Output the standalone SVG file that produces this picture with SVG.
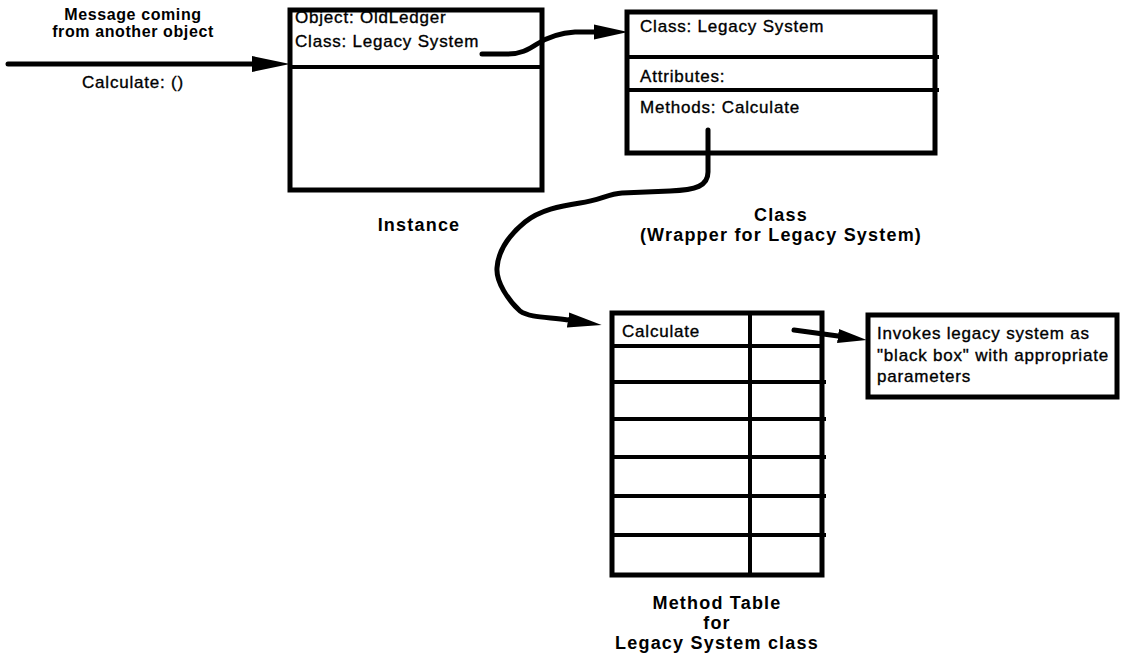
<svg xmlns="http://www.w3.org/2000/svg" width="1123" height="655" viewBox="0 0 1123 655">
  <style>
    .box { fill: #fff; stroke: #000; stroke-width: 5; }
    .div { stroke: #000; stroke-width: 4; fill: none; }
    .conn { stroke: #000; stroke-width: 5; fill: none; stroke-linecap: round; stroke-linejoin: round; }
    .t { font-family: "Liberation Sans", Arial, Helvetica, sans-serif; font-size: 17px; letter-spacing: 0.8px; fill: #000; stroke: #000; stroke-width: 0.35px; }
    .lbl { font-family: "Liberation Sans", Arial, Helvetica, sans-serif; font-size: 18px; font-weight: bold; letter-spacing: 1.2px; fill: #000; text-anchor: middle; }
    .msg { font-family: "Liberation Sans", Arial, Helvetica, sans-serif; font-size: 16px; font-weight: bold; letter-spacing: 0.6px; fill: #000; text-anchor: middle; }
  </style>
  <defs>
    <marker id="head" markerUnits="userSpaceOnUse" viewBox="0 -10 40 20" markerWidth="40" markerHeight="20" refX="0" refY="0" orient="auto">
      <path d="M0,-7.5 L34,0 L0,7.5 z" fill="#000"/>
    </marker>
    <marker id="headBig" markerUnits="userSpaceOnUse" viewBox="0 -10 44 20" markerWidth="44" markerHeight="20" refX="0" refY="0" orient="auto">
      <path d="M0,-8 L38,0 L0,8 z" fill="#000"/>
    </marker>
    <marker id="headSmall" markerUnits="userSpaceOnUse" viewBox="0 -10 34 20" markerWidth="34" markerHeight="20" refX="0" refY="0" orient="auto">
      <path d="M0,-7 L29,0 L0,7 z" fill="#000"/>
    </marker>
  </defs>
  <rect width="1123" height="655" fill="#fff"/>

  <!-- incoming message -->
  <g id="message">
    <text class="msg" x="133" y="20">Message coming</text>
    <text class="msg" x="133" y="37">from another object</text>
    <text class="t" x="133" y="88" text-anchor="middle">Calculate: ()</text>
  </g>

  <!-- instance object -->
  <g id="instance">
    <rect class="box" x="290" y="10" width="252" height="180"/>
    <line class="div" x1="290" y1="67" x2="542" y2="67"/>
    <text class="t" x="295" y="23">Object: OldLedger</text>
    <text class="t" x="295" y="47">Class: Legacy System</text>
    <text class="lbl" x="419" y="231">Instance</text>
  </g>

  <!-- wrapper class -->
  <g id="class">
    <rect class="box" x="627" y="12" width="308" height="141"/>
    <line class="div" x1="627" y1="57" x2="939" y2="57"/>
    <line class="div" x1="627" y1="90" x2="939" y2="90"/>
    <text class="t" x="640" y="32">Class: Legacy System</text>
    <text class="t" x="640" y="82">Attributes:</text>
    <text class="t" x="640" y="113">Methods: Calculate</text>
    <text class="lbl" x="781" y="221">Class</text>
    <text class="lbl" x="781" y="241">(Wrapper for Legacy System)</text>
  </g>

  <!-- method table -->
  <g id="method-table">
    <rect class="box" x="612" y="313" width="210" height="262"/>
    <line class="div" x1="750" y1="313" x2="750" y2="575"/>
    <line class="div" x1="612" y1="346" x2="822" y2="346"/>
    <line class="div" x1="612" y1="382" x2="826" y2="382"/>
    <line class="div" x1="612" y1="419" x2="826" y2="419"/>
    <line class="div" x1="612" y1="457" x2="826" y2="457"/>
    <line class="div" x1="612" y1="496" x2="826" y2="496"/>
    <line class="div" x1="612" y1="535" x2="826" y2="535"/>
    <text class="t" x="622" y="337">Calculate</text>
    <text class="lbl" x="717" y="609">Method Table</text>
    <text class="lbl" x="717" y="629">for</text>
    <text class="lbl" x="717" y="649">Legacy System class</text>
  </g>

  <!-- legacy system note -->
  <g id="legacy-note">
    <rect class="box" x="868" y="315" width="249" height="82"/>
    <text class="t" x="877" y="339">Invokes legacy system as</text>
    <text class="t" x="877" y="361">"black box" with appropriate</text>
    <text class="t" x="877" y="382">parameters</text>
  </g>

  <!-- connectors -->
  <g id="connectors">
    <path class="conn" d="M8,64 L252,64" marker-end="url(#headBig)"/>
    <path class="conn" d="M482,54 L508,54 C520,54 528,50 537,44 C548,37 560,33 575,32 L594,32" marker-end="url(#head)"/>
    <path class="conn" d="M708,130 L708,172 C708,186 696,190 670,191 L622,193 C608,194 600,200 580,203 C560,206 540,210 525,222 C508,236 498,252 497,268 C496,282 508,300 520,311 C530,318 548,317 568,320" marker-end="url(#head)"/>
    <path class="conn" d="M794,330 L838,336" marker-end="url(#headSmall)"/>
  </g>
</svg>
